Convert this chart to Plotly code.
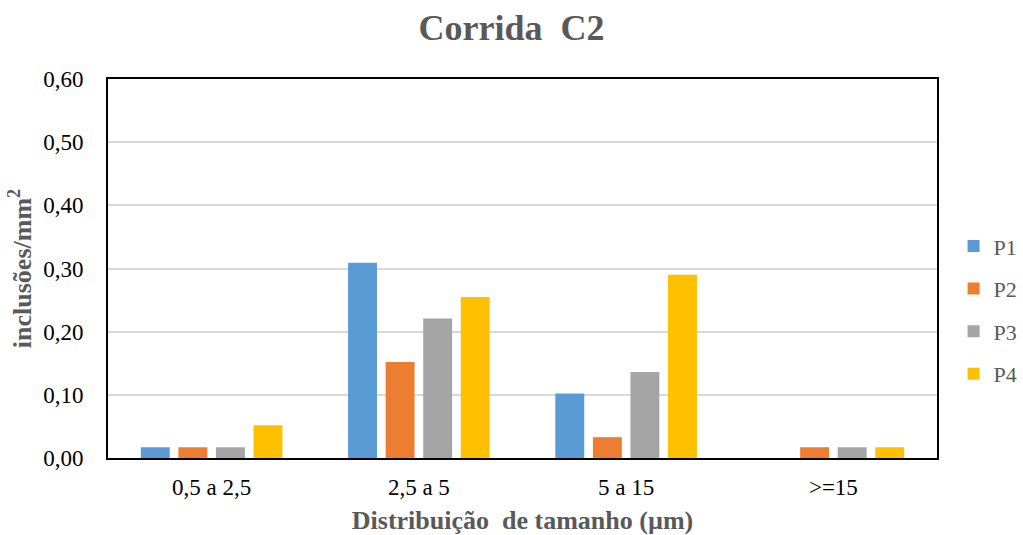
import plotly.graph_objects as go

categories = ["0,5 a 2,5", "2,5 a 5", "5 a 15", ">=15"]
p1 = [0.017, 0.309, 0.102, 0.0]
p2 = [0.017, 0.152, 0.033, 0.017]
p3 = [0.017, 0.221, 0.136, 0.017]
p4 = [0.052, 0.255, 0.290, 0.017]
series_names = ["P1", "P2", "P3", "P4"]
series_colors = ["#5B9BD5", "#ED7D31", "#A5A5A5", "#FFC000"]
y_ticks = [0.0, 0.1, 0.2, 0.3, 0.4, 0.5, 0.6]

serif = "Liberation Serif, Times New Roman, serif"

fig = go.Figure()
for name, vals, color in zip(series_names, [p1, p2, p3, p4], series_colors):
    fig.add_trace(go.Bar(
        x=categories, y=vals, name=name, legendgroup=name,
        marker=dict(color=color, line=dict(width=0)),
    ))

fig.update_layout(
    width=1023, height=535,
    margin=dict(l=108, r=86, t=79, b=77, autoexpand=False),
    paper_bgcolor="white", plot_bgcolor="white",
    separators=",.",
    barmode="group", bargap=0.275, bargroupgap=0.23,
    title=dict(text="<b>Corrida  C2</b>", x=0.5, xanchor="center",
               y=0.9495, yanchor="middle",
               font=dict(family=serif, size=36, color="#595959")),
    legend=dict(x=1.02, xanchor="left", y=0.39, yanchor="middle",
                font=dict(family=serif, size=22, color="#595959"),
                tracegroupgap=11, itemwidth=30),
    font=dict(family=serif, size=23, color="black"),
)

fig.update_yaxes(
    range=[0, 0.6], tickvals=y_ticks, tickformat=".2f",
    showgrid=True, gridcolor="#D9D9D9", gridwidth=1.5,
    showline=True, linecolor="black", linewidth=2, mirror=True,
    ticks="", ticklabelstandoff=18, zeroline=False,
    tickfont=dict(family=serif, size=23, color="black"),
    title=dict(text="<b>inclusões/mm<sup>2</sup></b>", standoff=4,
               font=dict(family=serif, size=26, color="#595959")),
)
fig.update_xaxes(
    showline=True, linecolor="black", linewidth=2, mirror=True,
    ticks="", ticklabelstandoff=7,
    tickfont=dict(family=serif, size=23, color="black"),
    title=dict(text="<b>Distribuição  de tamanho (µm)</b>", standoff=12,
               font=dict(family=serif, size=26, color="#595959")),
)

fig.write_html("out.html")
